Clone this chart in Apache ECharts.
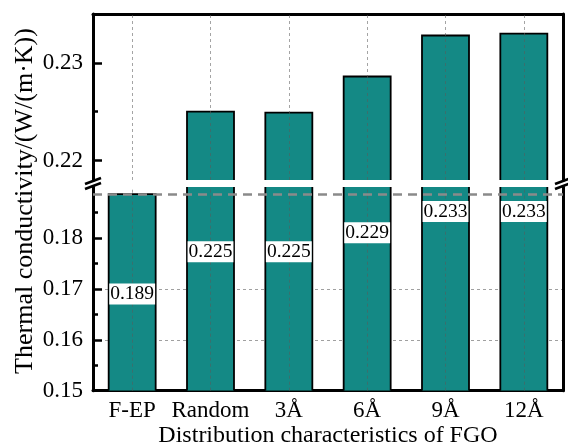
<!DOCTYPE html>
<html><head><meta charset="utf-8">
<script src="https://cdn.jsdelivr.net/npm/echarts@6/dist/echarts.min.js"></script>
<style>html,body{margin:0;padding:0;background:#fff}#c{width:568px;height:446px}</style>
</head><body><div id="c"></div>
<script>
// ---- data ----
const categories = ['F-EP', 'Random', '3Å', '6Å', '9Å', '12Å'];
const conductivity = [0.1886, 0.2250, 0.2249, 0.2286, 0.2328, 0.2330];
const upperTicks = [0.22, 0.23];
const upperMinorTicks = [0.225];
const lowerTicks = [0.15, 0.16, 0.17, 0.18];
const lowerMinorTicks = [0.155, 0.165, 0.175, 0.185];
const yName = 'Thermal conductivity/(W/(m·K))';
const xName = 'Distribution characteristics of FGO';

// ---- layout / style ----
const FONT = 'Liberation Serif';
const TEAL = '#148985';
const L = 93, R = 5;
const upperGrid = { left: L, right: R, top: 14, height: 166, outerBoundsMode: 'none', containLabel: false };
const lowerGrid = { left: L, right: R, top: 187, bottom: 55.3, outerBoundsMode: 'none', containLabel: false };
const upperRange = [0.218, 0.235];
const lowerRange = [0.15, 0.19];
const labelAt = [0.1690, 0.1773, 0.1773, 0.1810, 0.1852, 0.1852];

const chart = echarts.init(document.getElementById('c'), null, { renderer: 'canvas' });

const axisLineStyle = { color: '#000', width: 3 };
const gridDash = { color: '#a0a0a0', type: [3, 3], width: 1 };

function mainY(grid, range, ticks) {
  return {
    type: 'value', gridIndex: grid, position: 'left', min: range[0], max: range[1],
    axisLine: { show: true, onZero: false, lineStyle: axisLineStyle },
    axisTick: { show: true, inside: true, length: 9, lineStyle: { width: 2.5, color: '#000' }, customValues: ticks },
    axisLabel: { show: true, customValues: ticks,
      formatter: v => '{t|' + Number(v).toFixed(2) + '}',
      rich: { t: { fontFamily: FONT, fontSize: 23, color: '#000' } },
      fontFamily: FONT, fontSize: 23, color: '#000', margin: 10 },
    splitLine: { show: true, lineStyle: gridDash, showMinLine: false, showMaxLine: false }
  };
}
function minorY(grid, range, ticks) {
  return {
    type: 'value', gridIndex: grid, position: 'left', min: range[0], max: range[1],
    axisLine: { show: false },
    axisTick: { show: true, inside: true, length: 5, lineStyle: { width: 2.5, color: '#000' }, customValues: ticks },
    axisLabel: { show: false },
    splitLine: { show: false }
  };
}
function rightY(grid, range) {
  return {
    type: 'value', gridIndex: grid, position: 'right', min: range[0], max: range[1],
    axisLine: { show: true, onZero: false, lineStyle: axisLineStyle },
    axisTick: { show: false }, axisLabel: { show: false }, splitLine: { show: false }
  };
}

// bar drawn with fill + open border so the broken edges have no outline
function renderBar(params, api) {
  const cs = params.coordSys;
  const v = api.value(1);
  if (v == null || isNaN(v)) return null;
  const p = api.coord([api.value(0), v]);
  const w = api.size([1, 0])[0] * 0.6;
  const x0 = p[0] - w / 2, x1 = p[0] + w / 2;
  const yb = cs.y + cs.height;
  const topIn = p[1] >= cs.y;
  const yt = Math.max(p[1], cs.y);
  if (yt >= yb) return null;
  const stroke = { stroke: '#000', lineWidth: 1.8, fill: null };
  const children = [
    { type: 'rect', shape: { x: x0, y: yt, width: w, height: yb - yt }, style: { fill: TEAL } }
  ];
  if (topIn) {
    children.push({ type: 'polyline', shape: { points: [[x0, yb], [x0, yt], [x1, yt], [x1, yb]] }, style: stroke });
  } else {
    children.push({ type: 'line', shape: { x1: x0, y1: yt, x2: x0, y2: yb }, style: stroke });
    children.push({ type: 'line', shape: { x1: x1, y1: yt, x2: x1, y2: yb }, style: stroke });
  }
  return { type: 'group', children };
}

const vLineStyle = { color: 'rgba(90,90,90,0.55)', type: [3, 3], width: 1 };

const option = {
  animation: false,
  textStyle: { fontFamily: FONT, color: '#000' },
  grid: [upperGrid, lowerGrid],
  xAxis: [
    { type: 'category', gridIndex: 0, position: 'top', data: categories,
      axisLine: { show: true, onZero: false, lineStyle: axisLineStyle },
      axisTick: { show: false }, axisLabel: { show: false }, splitLine: { show: false } },
    { type: 'category', gridIndex: 1, position: 'bottom', data: categories,
      axisLine: { show: true, onZero: false, lineStyle: axisLineStyle },
      axisTick: { show: false },
      axisLabel: { interval: 0, fontFamily: FONT, fontSize: 23, color: '#000', margin: 9 },
      splitLine: { show: false },
      name: xName, nameLocation: 'middle', nameGap: 33,
      nameTextStyle: { fontFamily: FONT, fontSize: 24, color: '#000' } }
  ],
  yAxis: [
    mainY(0, upperRange, upperTicks), minorY(0, upperRange, upperMinorTicks), rightY(0, upperRange),
    mainY(1, lowerRange, lowerTicks), minorY(1, lowerRange, lowerMinorTicks), rightY(1, lowerRange)
  ],
  series: [
    { type: 'custom', xAxisIndex: 0, yAxisIndex: 0, clip: true,
      renderItem: renderBar, encode: { x: 0, y: 1 },
      data: categories.map((c, i) => [i, conductivity[i] > upperRange[0] ? conductivity[i] : '-']) },
    { type: 'custom', xAxisIndex: 1, yAxisIndex: 3, clip: true,
      renderItem: renderBar, encode: { x: 0, y: 1 },
      data: categories.map((c, i) => [i, conductivity[i]]) },
    { type: 'line', xAxisIndex: 0, yAxisIndex: 0, data: [], showSymbol: false,
      markLine: { silent: true, symbol: 'none', animation: false, label: { show: false },
        lineStyle: vLineStyle, data: categories.map(c => ({ xAxis: c })) } },
    { type: 'line', xAxisIndex: 1, yAxisIndex: 3, data: [], showSymbol: false,
      markLine: { silent: true, symbol: 'none', animation: false, label: { show: false },
        lineStyle: vLineStyle, data: categories.map(c => ({ xAxis: c })) } },
    { type: 'line', xAxisIndex: 1, yAxisIndex: 3, data: [], showSymbol: false,
      markLine: { silent: true, symbol: 'none', animation: false, label: { show: false }, precision: 6,
        lineStyle: { color: '#8a8a8a', type: [9, 6], width: 2.5 },
        data: [{ yAxis: conductivity[0] }] } },
    { type: 'scatter', xAxisIndex: 1, yAxisIndex: 3, symbolSize: 0, z: 10,
      itemStyle: { opacity: 1 },
      data: categories.map((c, i) => [i, labelAt[i], conductivity[i]]),
      label: { show: true, position: 'inside', formatter: p => p.value[2].toFixed(3),
        fontFamily: FONT, fontSize: 19.5, color: '#000', backgroundColor: '#fff', opacity: 1,
        padding: [1, 1, 0, 1] } }
  ]
};
chart.setOption(option);

// broken-axis marks and rotated y-axis title
const breakY1 = upperGrid.top + upperGrid.height;
const breakY2 = lowerGrid.top;
const xl = L, xr = 568 - R;
function brk(x, y) {
  return { type: 'line', shape: { x1: x - 8, y1: y + 3, x2: x + 8, y2: y - 3 }, style: { stroke: '#000', lineWidth: 2.5 }, z: 100 };
}
chart.setOption({
  graphic: [
    brk(xl, breakY1 + 1), brk(xl, breakY2 - 1),
    brk(xr, breakY1 + 1), brk(xr, breakY2 - 1),
    { type: 'text', x: 25, y: 201, rotation: Math.PI / 2,
      style: { text: yName, font: '26px "' + FONT + '"', fill: '#000', textAlign: 'center', textVerticalAlign: 'middle' } }
  ]
});
</script></body></html>
